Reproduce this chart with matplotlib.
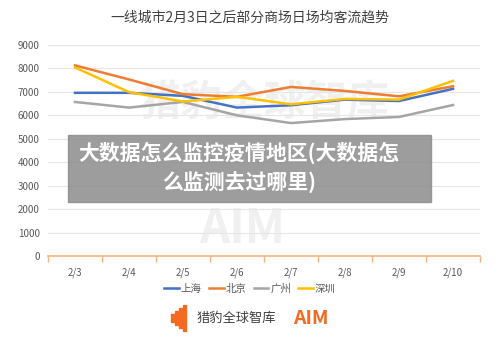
import matplotlib.pyplot as plt
from matplotlib.patches import Rectangle

plt.rcParams['font.family'] = ['Noto Sans CJK SC', 'DejaVu Sans']

dates = ["2/3", "2/4", "2/5", "2/6", "2/7", "2/8", "2/9", "2/10"]
shanghai = [6960, 6960, 6830, 6330, 6430, 6670, 6610, 7130]
beijing = [8130, 7530, 6900, 6790, 7210, 7040, 6810, 7240]
guangzhou = [6570, 6330, 6570, 6000, 5670, 5840, 5930, 6440]
shenzhen = [8040, 6990, 6590, 6790, 6470, 6700, 6670, 7470]
yticks = list(range(0, 9001, 1000))

series = [("上海", shanghai, "#4472C4"), ("北京", beijing, "#ED7D31"),
          ("广州", guangzhou, "#A5A5A5"), ("深圳", shenzhen, "#FFC000")]

fig = plt.figure(figsize=(5, 3.38), dpi=100)
ax = fig.add_axes([0.096, 0.2426, 0.864, 0.6243])

# faint watermark behind the data
ax.text(0.5, 0.72, "猎豹全球智库", transform=ax.transAxes, ha="center", va="center",
        fontsize=30, fontweight="bold", color="#000000", alpha=0.06, zorder=0)
ax.text(0.45, 0.13, "AIM", transform=ax.transAxes, ha="center", va="center",
        fontsize=34, fontweight="bold", color="#000000", alpha=0.06, zorder=0)

x = list(range(len(dates)))
for name, vals, col in series:
    ax.plot(x, vals, color=col, lw=1.8, label=name, zorder=3)

ax.set_xlim(-0.5, len(dates) - 0.5)
ax.set_ylim(0, 9000)
ax.set_yticks(yticks)
ax.set_xticks(x)
ax.set_xticklabels(dates)
ax.set_xticks([i - 0.5 for i in range(len(dates) + 1)], minor=True)
ax.tick_params(axis="x", which="major", length=0, pad=8, labelsize=7, labelcolor="#595959")
ax.tick_params(axis="x", which="minor", length=4, color="#F4B183", width=1)
ax.tick_params(axis="y", length=0, labelsize=7, labelcolor="#595959", pad=6)
ax.grid(axis="y", color="#E6E6E6", lw=0.8, zorder=1)
for s in ["top", "right", "left"]:
    ax.spines[s].set_visible(False)
ax.spines["bottom"].set_color("#F4B183")
ax.spines["bottom"].set_linewidth(1.2)

fig.text(0.5, 0.948, "一线城市2月3日之后部分商场日场均客流趋势", ha="center", va="center",
         fontsize=10, color="#404040")

fig.legend(loc="center", bbox_to_anchor=(0.5, 0.145), ncol=4, frameon=False,
           fontsize=7.5, handlelength=1.4, handletextpad=0.2, columnspacing=0.7,
           labelcolor="#595959")

# grey overlay caption
fig.patches.append(Rectangle((68 / 500, 1 - 202 / 338), 363 / 500, 67 / 338,
                             transform=fig.transFigure, color="#8C8C8C", alpha=0.85, zorder=5))
fig.text(0.478, 1 - 168 / 338, "大数据怎么监控疫情地区(大数据怎\n么监测去过哪里)",
         ha="center", va="center", ma="center", fontsize=15, fontweight="bold",
         color="white", linespacing=1.45, zorder=6)

# footer logo
for i, h in enumerate([8, 14, 20, 26]):
    fig.patches.append(Rectangle(((171 + i * 4) / 500, 1 - (331 - (26 - h) / 2) / 338),
                                 2.5 / 500, h / 338, transform=fig.transFigure,
                                 color="#F26B21", zorder=5))
fig.text(197 / 500, 1 - 318 / 338, "猎豹全球智库", ha="left", va="center",
         fontsize=9.5, color="#404040")
fig.text(293 / 500, 1 - 318 / 338, "AIM", ha="left", va="center",
         fontsize=14, fontweight="bold", color="#F26B21")

fig.savefig("out.png", dpi=100)
